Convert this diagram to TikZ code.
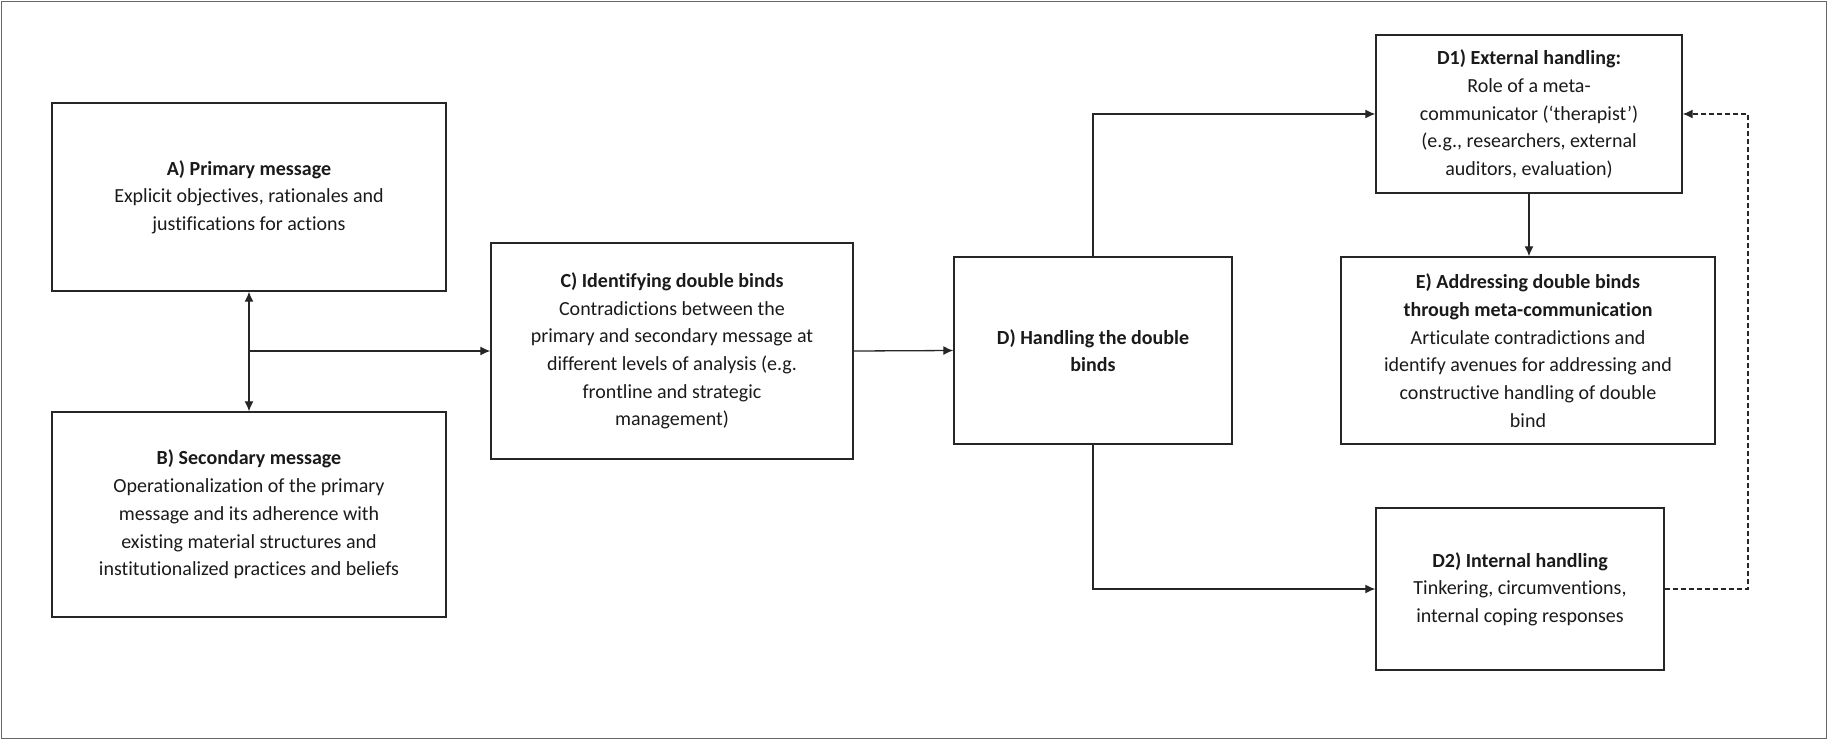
\documentclass[tikz,border=0pt]{standalone}
\usepackage{fontspec}
\setmainfont[Ligatures=NoCommon]{Carlito}
\usetikzlibrary{arrows.meta}
\definecolor{txt}{HTML}{1A1A1A}
\begin{document}
\begin{tikzpicture}[x=1pt,y=-1pt,
  box/.style={draw=black!85, line width=1.4pt, align=center, inner sep=0pt,
    font=\fontsize{20}{27.7}\selectfont, text=txt},
  conn/.style={line width=1.3pt, draw=black!85, -{Latex[length=10pt,width=9pt]}},
  dconn/.style={conn, dashed, dash pattern=on 5pt off 3pt}]
\useasboundingbox (0,0) rectangle (1827,739);
\draw[black!60, line width=1pt] (1,1) rectangle (1826,738);
\node[box, minimum width=394pt, minimum height=188pt] (A) at (249,197)
  {\textbf{A) Primary message}\\Explicit objectives, rationales and\\justifications for actions};
\node[box, minimum width=394pt, minimum height=205pt] (B) at (249,514.5)
  {\textbf{B) Secondary message}\\Operationalization of the primary\\message and its adherence with\\existing material structures and\\institutionalized practices and beliefs};
\node[box, minimum width=362pt, minimum height=216pt] (C) at (672,351)
  {\textbf{C) Identifying double binds}\\Contradictions between the\\primary and secondary message at\\different levels of analysis (e.g.\\frontline and strategic\\management)};
\node[box, minimum width=278pt, minimum height=187pt] (D) at (1093,350.5)
  {\textbf{D) Handling the double}\\\textbf{binds}};
\node[box, minimum width=306pt, minimum height=158pt] (D1) at (1529,114)
  {\textbf{D1) External handling:}\\Role of a meta-\\communicator (‘therapist’)\\(e.g., researchers, external\\auditors, evaluation)};
\node[box, minimum width=374pt, minimum height=187pt] (E) at (1528,350.5)
  {\textbf{E) Addressing double binds}\\\textbf{through meta-communication}\\Articulate contradictions and\\identify avenues for addressing and\\constructive handling of double\\bind};
\node[box, minimum width=288pt, minimum height=162pt] (D2) at (1520,589)
  {\textbf{D2) Internal handling}\\Tinkering, circumventions,\\internal coping responses};
\coordinate (J) at (A.south |- C.west);
\coordinate (R) at (1748,0);
\draw[conn, {Latex[length=10pt,width=9pt]}-{Latex[length=10pt,width=9pt]}] (A.south) -- (B.north);
\draw[conn] (J) -- (C.west);
\draw[conn] (C.east) -- (D.west);
\draw[conn] (D.north) |- (D1.west);
\draw[conn] (D.south) |- (D2.west);
\draw[conn] (D1.south) -- (D1.south |- E.north);
\draw[dconn] (D2.east) -| (R |- D1.east) -- (D1.east);
\end{tikzpicture}
\end{document}
